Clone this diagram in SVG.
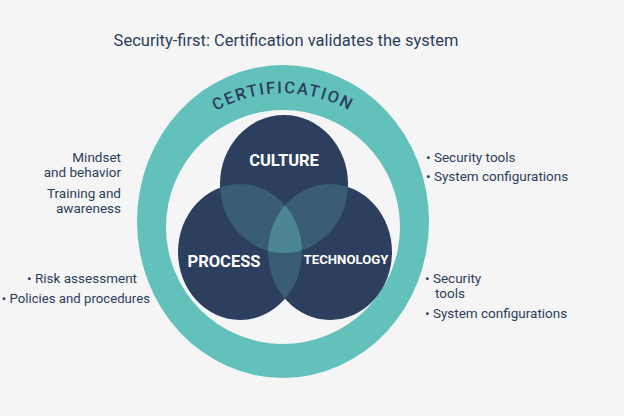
<svg xmlns="http://www.w3.org/2000/svg" width="624" height="416" viewBox="0 0 624 416">
  <style>
    .t { font-family: Roboto, "Liberation Sans", Arial, sans-serif; fill: #2c3e5c; }
    .side { font-size: 13.5px; }
    .lbl { font-family: Roboto, "Liberation Sans", Arial, sans-serif; fill: #ffffff; font-weight: 700; text-anchor: middle; }
    .navy { fill: #2c3f5e; }
    .ov { fill: #63c1bc; fill-opacity: 0.24; }
  </style>
  <defs>
    <clipPath id="cC"><ellipse cx="284" cy="184" rx="64" ry="69"/></clipPath>
    <clipPath id="cP"><ellipse cx="240" cy="252" rx="62" ry="68"/></clipPath>
    <path id="arc" d="M 167 160 A 134 134 0 0 1 399 160"/>
  </defs>
  <rect width="624" height="416" fill="#f5f5f5"/>
  <text class="t" x="286" y="46" font-size="16.5" text-anchor="middle">Security-first: Certification validates the system</text>

  <g id="certification">
    <path d="M 137 221.5 A 146 156.5 0 1 0 429 221.5 A 146 156.5 0 1 0 137 221.5 Z M 166 227 A 117 117 0 1 1 400 227 A 117 117 0 1 1 166 227 Z" fill="#63c1bc" fill-rule="evenodd"/>
    <text class="t" font-size="16.5" letter-spacing="1.8" font-weight="500"><textPath href="#arc" startOffset="50%" text-anchor="middle">CERTIFICATION</textPath></text>
  </g>

  <g id="culture">
    <ellipse class="navy" cx="284" cy="184" rx="64" ry="69"/>
  </g>
  <g id="process">
    <ellipse class="navy" cx="240" cy="252" rx="62" ry="68"/>
  </g>
  <g id="technology">
    <ellipse class="navy" cx="330" cy="252" rx="62" ry="68"/>
  </g>
  <g id="overlaps">
    <ellipse class="ov" cx="240" cy="252" rx="62" ry="68" clip-path="url(#cC)"/>
    <ellipse class="ov" cx="330" cy="252" rx="62" ry="68" clip-path="url(#cC)"/>
    <ellipse class="ov" cx="330" cy="252" rx="62" ry="68" clip-path="url(#cP)"/>
  </g>
  <g id="labels">
    <text class="lbl" x="284" y="166" font-size="16.5">CULTURE</text>
    <text class="lbl" x="224" y="267" font-size="16.5">PROCESS</text>
    <text class="lbl" x="346" y="264" font-size="13.2">TECHNOLOGY</text>
  </g>

  <g id="culture-notes" class="t side" text-anchor="end">
    <text x="121" y="162">Mindset</text>
    <text x="121" y="177">and behavior</text>
    <text x="121" y="198">Training and</text>
    <text x="121" y="213">awareness</text>
  </g>
  <g id="process-notes" class="t side" text-anchor="end">
    <text x="137" y="283">• Risk assessment</text>
    <text x="150" y="303" font-size="13.2">• Policies and procedures</text>
  </g>
  <g id="technology-notes-top" class="t side">
    <text x="426" y="162">• Security tools</text>
    <text x="426" y="181">• System configurations</text>
  </g>
  <g id="technology-notes-bottom" class="t side">
    <text x="425" y="283">• Security</text>
    <text x="435" y="298">tools</text>
    <text x="425" y="318">• System configurations</text>
  </g>
</svg>
